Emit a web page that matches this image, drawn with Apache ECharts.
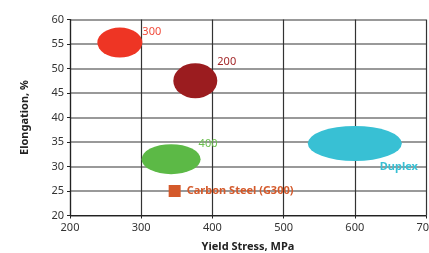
<!DOCTYPE html>
<html>
<head>
<meta charset="utf-8">
<script src="https://cdn.jsdelivr.net/npm/echarts@6/dist/echarts.min.js"></script>
<style>html,body{margin:0;padding:0;background:#fff;overflow:hidden;}#c{width:429px;height:253px;}</style>
</head>
<body>
<div id="c"></div>
<script>
const names = ['300', '200', '400', 'Duplex', 'Carbon Steel (G300)'];
const yieldStress = [270, 376, 342, 600, 347];
const elongation = [55.3, 47.5, 31.5, 34.7, 25];
const xTicks = [200, 300, 400, 500, 600, 700];
const yTicks = [20, 25, 30, 35, 40, 45, 50, 55, 60];

const styles = [
  {color: '#ee3524', size: [45, 30], symbol: 'circle', label: {position: 'right', distance: 0, offset: [0, -11], color: '#f04b3b', fontWeight: 'normal'}},
  {color: '#9b1c1f', size: [44, 35], symbol: 'circle', label: {position: 'right', distance: 0, offset: [0, -19], color: '#a3282a', fontWeight: 'normal'}},
  {color: '#5cb946', size: [59, 30], symbol: 'circle', label: {position: 'right', distance: 0, offset: [-2, -15], color: '#6cc04f', fontWeight: 'normal'}},
  {color: '#38c0d4', size: [94, 35], symbol: 'circle', label: {position: 'inside', offset: [44, 23], color: '#38c0d4', fontWeight: 'bold'}},
  {color: '#d4592a', size: [12, 12], symbol: 'rect', label: {position: 'right', distance: 6, offset: [0, 0], color: '#d4592a', fontWeight: 'bold'}}
];

const series = names.map((n, i) => ({
  type: 'scatter',
  name: n,
  symbol: styles[i].symbol,
  symbolSize: styles[i].size,
  itemStyle: {color: styles[i].color, opacity: 1},
  label: Object.assign({show: true, formatter: n, fontSize: 11, fontFamily: 'Noto Sans'}, styles[i].label),
  data: [[yieldStress[i], elongation[i]]],
  z: 3
}));

const chart = echarts.init(document.getElementById('c'), null, {renderer: 'canvas'});
chart.setOption({
  animation: false,
  grid: {left: 70, right: 3, top: 19.5, bottom: 37.5, containLabel: false, outerBoundsMode: 'none'},
  xAxis: {
    type: 'value', min: xTicks[0], max: xTicks[xTicks.length - 1], interval: 100,
    name: 'Yield Stress, MPa', nameLocation: 'middle', nameGap: 26,
    nameTextStyle: {fontWeight: 'bold', fontSize: 11, color: '#222', fontFamily: 'Noto Sans'},
    axisLine: {lineStyle: {color: '#222', width: 1.2}},
    axisTick: {show: true, length: 3, lineStyle: {color: '#222'}},
    axisLabel: {fontSize: 11, color: '#333', margin: 7, fontFamily: 'Noto Sans', hideOverlap: false},
    splitLine: {show: true, lineStyle: {color: '#333', width: 1.2}}
  },
  yAxis: {
    type: 'value', min: yTicks[0], max: yTicks[yTicks.length - 1], interval: 5,
    name: 'Elongation, %', nameLocation: 'middle', nameGap: 40, nameRotate: 90,
    nameTextStyle: {fontWeight: 'bold', fontSize: 11, color: '#222', fontFamily: 'Noto Sans'},
    axisLine: {show: true, lineStyle: {color: '#222', width: 1.2}},
    axisTick: {show: true, length: 3, lineStyle: {color: '#222'}},
    axisLabel: {fontSize: 11, color: '#333', margin: 6, fontFamily: 'Noto Sans'},
    splitLine: {show: true, lineStyle: {color: '#777', width: 1.5}}
  },
  series: series
});
</script>
</body>
</html>
